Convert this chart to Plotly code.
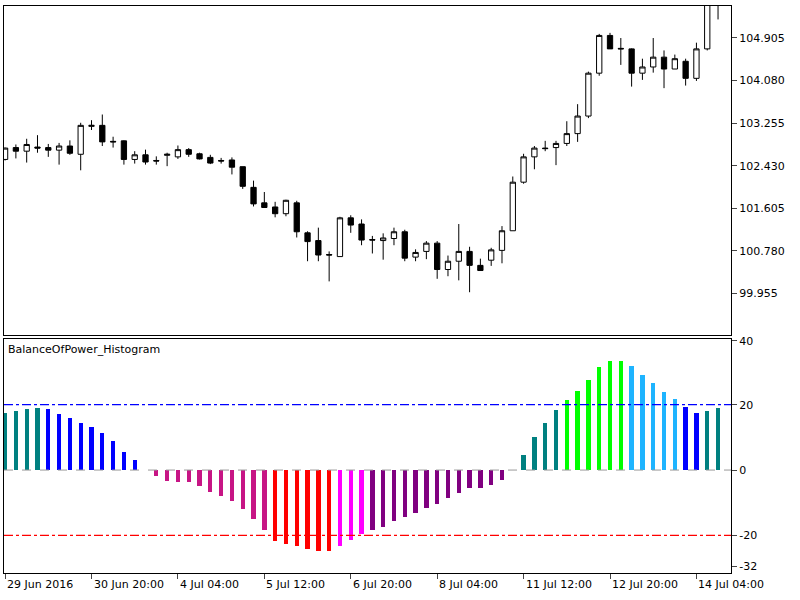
import plotly.graph_objects as go
from plotly.subplots import make_subplots

opens = [102.55, 102.78, 102.71, 102.79, 102.78, 102.73, 102.81, 102.65, 103.19, 103.21,
         102.90, 102.91, 102.55, 102.64, 102.53, 102.63, 102.60, 102.74, 102.66, 102.59,
         102.53, 102.54, 102.41, 102.01, 101.71, 101.63, 101.50, 101.71, 101.13, 100.98,
         100.71, 100.67, 101.42, 101.30, 101.00, 100.98, 101.02, 101.15, 100.66, 100.77,
         100.93, 100.42, 100.58, 100.77, 100.50, 100.60, 100.79, 101.17, 102.11, 102.60,
         102.77, 102.78, 102.86, 103.05, 103.39, 104.22, 104.95, 104.70, 104.69, 104.22,
         104.34, 104.53, 104.30, 104.45, 104.12, 104.69, 105.70]
highs = [102.78, 102.84, 102.95, 103.02, 102.85, 102.87, 102.92, 103.26, 103.31, 103.42,
         102.99, 102.92, 102.71, 102.74, 102.61, 102.68, 102.82, 102.77, 102.68, 102.64,
         102.58, 102.59, 102.41, 102.14, 101.92, 101.73, 101.77, 101.75, 101.16, 101.23,
         100.77, 101.44, 101.47, 101.39, 101.07, 101.12, 101.23, 101.19, 100.81, 100.97,
         100.97, 100.69, 101.30, 100.86, 100.63, 100.84, 101.26, 102.22, 102.66, 102.81,
         102.91, 102.91, 103.29, 103.62, 104.25, 104.98, 105.00, 104.90, 104.70, 104.50,
         104.90, 104.66, 104.58, 104.50, 104.81, 105.90, 106.00]
lows = [102.53, 102.57, 102.49, 102.68, 102.60, 102.45, 102.64, 102.34, 103.12, 102.81,
        102.78, 102.45, 102.47, 102.45, 102.45, 102.42, 102.56, 102.60, 102.55, 102.46,
        102.47, 102.26, 101.98, 101.64, 101.62, 101.43, 101.45, 101.04, 100.58, 100.58,
        100.19, 100.67, 101.13, 100.89, 100.73, 100.61, 100.89, 100.58, 100.58, 100.62,
        100.24, 100.29, 100.21, 99.98, 100.40, 100.49, 100.54, 101.17, 102.08, 102.36,
        102.71, 102.44, 102.81, 102.89, 103.35, 104.17, 104.69, 104.38, 103.96, 104.09,
        104.23, 103.93, 104.30, 103.98, 104.07, 104.66, 105.26]
closes = [102.77, 102.71, 102.84, 102.77, 102.73, 102.81, 102.67, 103.21, 103.21, 102.89,
          102.89, 102.55, 102.64, 102.50, 102.52, 102.65, 102.74, 102.65, 102.56, 102.48,
          102.52, 102.40, 102.03, 101.69, 101.62, 101.50, 101.76, 101.15, 100.96, 100.70,
          100.70, 101.42, 101.28, 100.99, 100.99, 101.03, 101.15, 100.64, 100.75, 100.93,
          100.42, 100.58, 100.77, 100.50, 100.40, 100.80, 101.17, 102.11, 102.60, 102.77,
          102.76, 102.86, 103.05, 103.39, 104.22, 104.95, 104.69, 104.69, 104.22, 104.34,
          104.53, 104.30, 104.50, 104.12, 104.69, 105.70, 105.90]

bop = [17.3, 18.1, 18.5, 18.9, 18.5, 17.2, 15.7, 14.4, 13.2, 11.1, 8.7, 5.4, 3.0, 0.0,
       -1.9, -3.5, -3.9, -3.9, -5.1, -6.7, -8.0, -9.5, -12.0, -15.2, -18.5,
       -21.8, -22.7, -23.4, -24.2, -25.0, -25.0, -23.4, -21.4, -19.7,
       -18.5, -17.4, -15.7, -14.5, -13.2, -11.7, -10.4, -8.8, -7.2, -5.5, -5.5, -4.7, -3.1,
       0.0, 4.6, 9.9, 14.3, 18.4, 21.3, 24.1, 27.4, 31.4, 33.4, 33.4,
       31.8, 29.0, 26.6, 23.7, 21.7, 19.2, 17.5, 18.0, 18.9]
bop_colors = (["#008080"] * 4 + ["#0000FF"] * 9 + ["#C71585"] * 12 + ["#FF0000"] * 6
              + ["#FF00FF"] * 3 + ["#800080"] * 13 + ["#008080"] * 5 + ["#00FF00"] * 6
              + ["#1EB4FF"] * 5 + ["#0000FF"] * 2 + ["#008080"] * 2)

price_ticks = [99.955, 100.780, 101.605, 102.430, 103.255, 104.080, 104.905]
# MT prints the pane's min/max at the edges; labels sit a little inside
bop_tick_pos = [39.5, 20, 0, -20, -29.5]
bop_tick_text = ["40", "20", "0", "-20", "-32"]
time_labels = ["29 Jun 2016", "30 Jun 20:00", "4 Jul 04:00", "5 Jul 12:00", "6 Jul 20:00",
               "8 Jul 04:00", "11 Jul 12:00", "12 Jul 20:00", "14 Jul 04:00"]
time_idx = [0, 8, 16, 24, 32, 40, 48, 56, 64]

x = list(range(len(opens)))
font = dict(family="DejaVu Sans", size=11, color="black")

fig = make_subplots(rows=2, cols=1, shared_xaxes=True, vertical_spacing=0.007,
                    row_heights=[0.585, 0.415])
fig.add_trace(go.Candlestick(
    x=x, open=opens, high=highs, low=lows, close=closes,
    increasing=dict(line=dict(color="black", width=1), fillcolor="white"),
    decreasing=dict(line=dict(color="black", width=1), fillcolor="black"),
    whiskerwidth=0, hoverinfo="none", showlegend=False), row=1, col=1)

fig.add_trace(go.Bar(x=x, y=bop, marker=dict(color=bop_colors, line_width=0),
                     width=0.4, showlegend=False, hoverinfo="none"), row=2, col=1)

fig.add_hline(y=20, line=dict(color="#0000FF", width=1.3, dash="dashdot"), row=2, col=1)
fig.add_hline(y=-20, line=dict(color="#FF0000", width=1.3, dash="dashdot"), row=2, col=1)
fig.add_hline(y=0, line=dict(color="#999999", width=1, dash="dash"), row=2, col=1)

axis_common = dict(showline=True, linecolor="black", linewidth=1, mirror=True,
                   showgrid=False, zeroline=False, tickfont=font)
fig.update_xaxes(range=[-0.1, 67.2], rangeslider_visible=False, **axis_common)
fig.update_xaxes(tickvals=time_idx, ticktext=[""] * len(time_idx), ticks="outside",
                 ticklen=5, row=2, col=1)
fig.update_xaxes(showticklabels=False, ticks="", row=1, col=1)
fig.update_yaxes(side="right", ticks="outside", ticklen=5, **axis_common)
fig.update_yaxes(range=[99.145, 105.52], tickvals=price_ticks,
                 ticktext=[f"{v:.3f}" for v in price_ticks], row=1, col=1)
fig.update_yaxes(range=[-31.5, 40], tickvals=bop_tick_pos, ticktext=bop_tick_text, row=2, col=1)

for i, lab in zip(time_idx, time_labels):
    fig.add_annotation(x=i, y=0, xref="x2", yref="paper", yshift=-3, text=lab,
                       showarrow=False, xanchor="left", yanchor="top", font=font)
fig.add_annotation(x=0, y=0.41, xref="paper", yref="paper", xshift=2, text="BalanceOfPower_Histogram",
                   showarrow=False, xanchor="left", yanchor="top", font=font)

fig.update_layout(width=800, height=600, margin=dict(l=4, r=69, t=1, b=27),
                  plot_bgcolor="white", paper_bgcolor="white", bargap=0, hovermode=False)
fig.write_html("out.html", config={"displayModeBar": False},
               post_script="document.body.style.margin='0';")
